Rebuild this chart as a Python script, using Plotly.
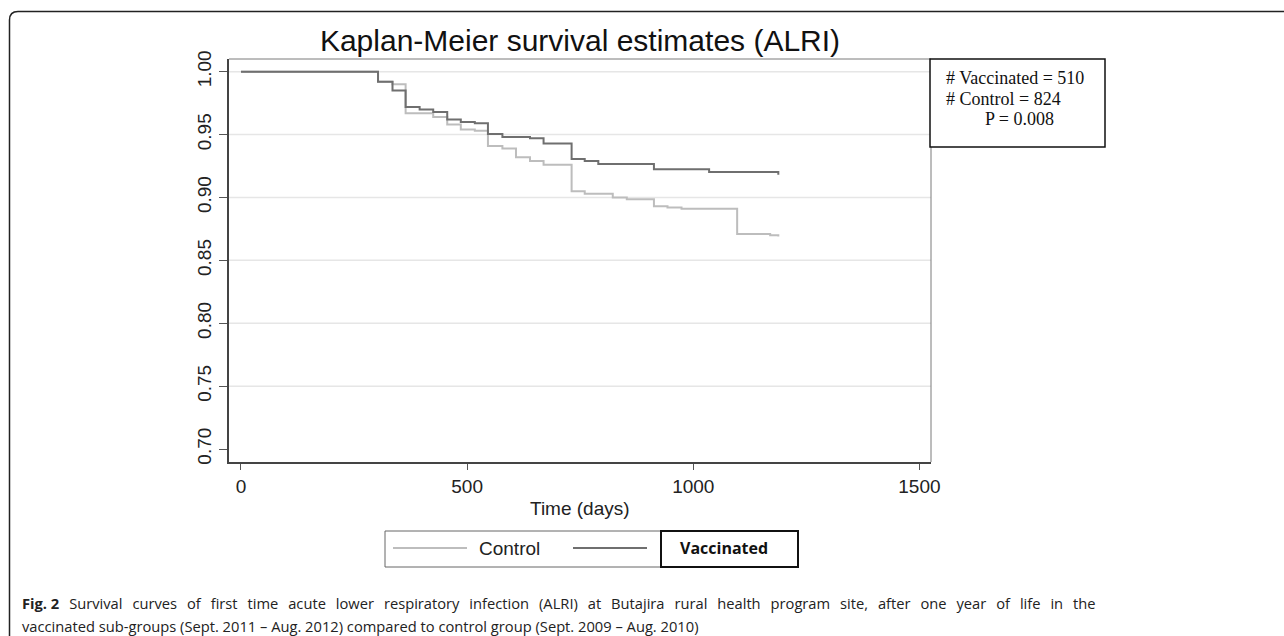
import plotly.graph_objects as go

# ---------------- data ----------------
days_vacc = [0, 303, 335, 364, 395, 425, 456, 486, 517, 546, 578, 639, 669, 731, 760, 790, 913, 1035, 1188]
surv_vacc = [1.0, 0.992, 0.985, 0.972, 0.970, 0.968, 0.962, 0.960, 0.959, 0.9505, 0.948, 0.947, 0.943, 0.9306, 0.929, 0.9266, 0.9224, 0.9203, 0.918]

days_ctrl = [0, 303, 335, 364, 425, 456, 486, 517, 546, 578, 608, 639, 669, 731, 760, 822, 853, 913, 943, 974, 1097, 1170, 1188]
surv_ctrl = [1.0, 0.992, 0.990, 0.967, 0.964, 0.958, 0.954, 0.953, 0.941, 0.939, 0.932, 0.929, 0.926, 0.905, 0.903, 0.900, 0.8986, 0.893, 0.892, 0.891, 0.871, 0.870, 0.869]

series_names = ["Control", "Vaccinated"]
x_ticks = [0, 500, 1000, 1500]
y_ticks = [0.70, 0.75, 0.80, 0.85, 0.90, 0.95, 1.00]
grid_vals = [0.75, 0.80, 0.85, 0.90, 0.95, 1.00]
stats_lines = ["# Vaccinated = 510", "# Control = 824", "P = 0.008"]
title_text = "Kaplan-Meier survival estimates (ALRI)"
caption_1_words = ("Survival curves of first time acute lower respiratory infection (ALRI) at "
                   "Butajira rural health program site, after one year of life in the").split(" ")
caption_2 = "vaccinated sub-groups (Sept. 2011 – Aug. 2012) compared to control group (Sept. 2009 – Aug. 2010)"

# justified first caption line: widen word gaps a little
GAP = " \u2005\u2009"
caption_1 = "<b>Fig. 2</b>" + GAP + GAP.join(caption_1_words)

# ---------------- layout geometry ----------------
W, H = 1284, 636
L, R, T, B = 229, 353, 59, 174
PW, PH = W - L - R, H - T - B


def X(px):
    return (px - L) / PW


def Y(py):
    return (H - B - py) / PH


CTRL_COLOR = "#bdbdbd"
VACC_COLOR = "#6f6f6f"
SANS = "Liberation Sans, Arial, Helvetica, sans-serif"
SERIF = "Liberation Serif, Times New Roman, serif"
CAP = "Open Sans, Noto Sans, sans-serif"

fig = go.Figure()
fig.add_trace(go.Scatter(x=days_ctrl, y=surv_ctrl, mode="lines", name=series_names[0],
                         line=dict(shape="hv", color=CTRL_COLOR, width=2)))
fig.add_trace(go.Scatter(x=days_vacc, y=surv_vacc, mode="lines", name=series_names[1],
                         line=dict(shape="hv", color=VACC_COLOR, width=2)))

shapes = []
# grid lines
for g in grid_vals:
    shapes.append(dict(type="line", xref="paper", yref="y", x0=0, x1=1, y0=g, y1=g,
                       line=dict(color="#e6e6e6", width=1.5), layer="below"))
# plot region top & right outline
shapes.append(dict(type="line", xref="paper", yref="paper", x0=0, x1=1, y0=1, y1=1,
                   line=dict(color="#7a7a7a", width=1)))
shapes.append(dict(type="line", xref="paper", yref="paper", x0=1, x1=1, y0=0, y1=1,
                   line=dict(color="#7a7a7a", width=1)))
# stats box
shapes.append(dict(type="rect", xref="paper", yref="paper", x0=X(930), x1=X(1105), y0=Y(147), y1=Y(59),
                   line=dict(color="#111111", width=1.5), fillcolor="white"))
# legend boxes
shapes.append(dict(type="rect", xref="paper", yref="paper", x0=X(385), x1=X(661), y0=Y(567), y1=Y(531),
                   line=dict(color="#666666", width=1), fillcolor="white"))
shapes.append(dict(type="rect", xref="paper", yref="paper", x0=X(661), x1=X(798), y0=Y(567), y1=Y(531),
                   line=dict(color="#111111", width=2), fillcolor="white"))
# legend samples
shapes.append(dict(type="line", xref="paper", yref="paper", x0=X(393), x1=X(467), y0=Y(548), y1=Y(548),
                   line=dict(color=CTRL_COLOR, width=2)))
shapes.append(dict(type="line", xref="paper", yref="paper", x0=X(573), x1=X(647), y0=Y(548), y1=Y(548),
                   line=dict(color=VACC_COLOR, width=2)))
# outer rounded frame
path = (f"M {X(9.5)},{Y(650)} L {X(9.5)},{Y(20)} Q {X(9.5)},{Y(11.5)} {X(18)},{Y(11.5)} "
        f"L {X(1300)},{Y(11.5)}")
shapes.append(dict(type="path", xref="paper", yref="paper", path=path,
                   line=dict(color="#222222", width=1.5)))

annotations = []
annotations.append(dict(xref="paper", yref="paper", x=X(944), y=Y(78), xanchor="left", yanchor="middle",
                        text=stats_lines[0], showarrow=False, font=dict(family=SERIF, size=18, color="#111")))
annotations.append(dict(xref="paper", yref="paper", x=X(944), y=Y(98.5), xanchor="left", yanchor="middle",
                        text=stats_lines[1], showarrow=False, font=dict(family=SERIF, size=18, color="#111")))
annotations.append(dict(xref="paper", yref="paper", x=X(983), y=Y(119), xanchor="left", yanchor="middle",
                        text=stats_lines[2], showarrow=False, font=dict(family=SERIF, size=18, color="#111")))
# x-axis title
annotations.append(dict(xref="paper", yref="paper", x=X(580), y=Y(508), xanchor="center", yanchor="middle",
                        text="Time (days)", showarrow=False, font=dict(family=SANS, size=19, color="#222")))
# legend labels
annotations.append(dict(xref="paper", yref="paper", x=X(509), y=Y(548), xanchor="center", yanchor="middle",
                        text=series_names[0], showarrow=False, font=dict(family=SANS, size=19, color="#222")))
annotations.append(dict(xref="paper", yref="paper", x=X(724), y=Y(548), xanchor="center", yanchor="middle",
                        text="<b>" + series_names[1] + "</b>", showarrow=False,
                        font=dict(family=CAP, size=16, color="#111")))
# caption
annotations.append(dict(xref="paper", yref="paper", x=X(20), y=Y(603), xanchor="left", yanchor="middle",
                        text=caption_1, showarrow=False, font=dict(family=CAP, size=14.7, color="#222")))
annotations.append(dict(xref="paper", yref="paper", x=X(20), y=Y(626), xanchor="left", yanchor="middle",
                        text=caption_2, showarrow=False, font=dict(family=CAP, size=14.7, color="#222")))

fig.update_layout(
    width=W, height=H,
    margin=dict(l=L, r=R, t=T, b=B, pad=0),
    paper_bgcolor="white", plot_bgcolor="white",
    showlegend=False,
    title=dict(text=title_text, x=X(580), xref="paper", xanchor="center",
               y=1 - 40 / H, yref="container", yanchor="middle",
               font=dict(family=SANS, size=30, color="#111")),
    shapes=shapes,
    annotations=annotations,
)
fig.update_xaxes(range=[-26.5, 1525.6], tickvals=x_ticks, ticks="outside", ticklen=6, tickwidth=1,
                 tickcolor="#555", showline=True, linecolor="#444", linewidth=2, showgrid=False,
                 zeroline=False, tickfont=dict(family=SANS, size=19, color="#222"))
fig.update_yaxes(range=[0.6897, 1.0101], tickvals=y_ticks, tickformat=".2f", ticks="outside", ticklen=8,
                 tickwidth=1, tickcolor="#555", showline=True, linecolor="#444", linewidth=2,
                 showgrid=False, zeroline=False, tickangle=-90,
                 tickfont=dict(family=SANS, size=19, color="#222"))

fig.write_html("out.html", config={"displayModeBar": False},
               post_script="document.body.style.margin='0';document.body.style.overflow='hidden';")
